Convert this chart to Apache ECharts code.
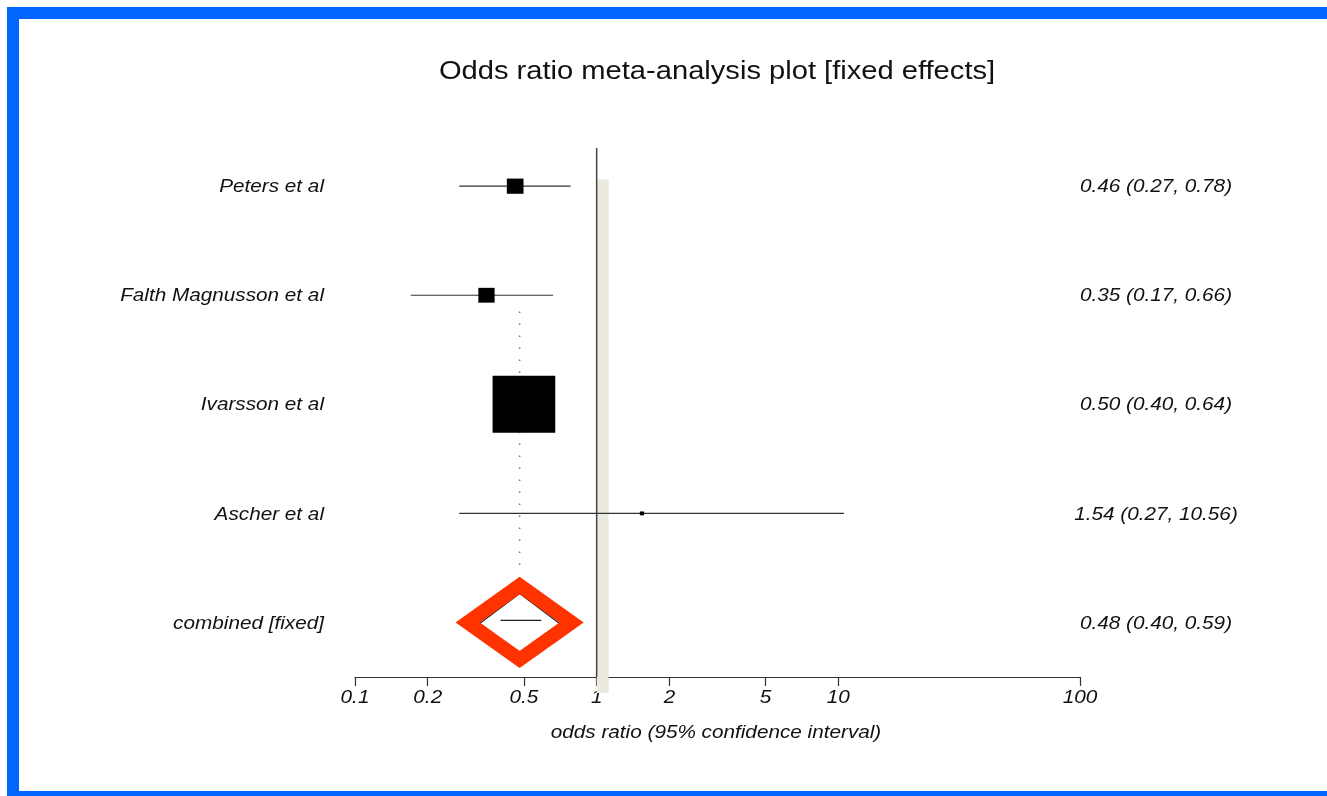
<!DOCTYPE html>
<html>
<head>
<meta charset="utf-8">
<script src="https://cdn.jsdelivr.net/npm/echarts@6/dist/echarts.min.js"></script>
<style>
  html, body { margin: 0; padding: 0; background: #fff; }
  #chart { width: 1327px; height: 796px; }
</style>
</head>
<body>
<div id="chart"></div>
<script>
// Forest plot: odds ratios with 95% confidence intervals, fixed-effects pooling
const studies = ['Peters et al', 'Falth Magnusson et al', 'Ivarsson et al', 'Ascher et al'];
const oddsRatio = [0.46, 0.35, 0.50, 1.54];
const ciLower = [0.27, 0.17, 0.40, 0.27];
const ciUpper = [0.78, 0.66, 0.64, 10.56];
const weightPct = [6.2, 5.9, 87.5, 0.4];

const pooledLabel = 'combined [fixed]';
const pooledOR = 0.48;
const pooledLower = 0.40;
const pooledUpper = 0.59;

const tickValues = [0.1, 0.2, 0.5, 1, 2, 5, 10, 100];
const tickLabels = ['0.1', '0.2', '0.5', '1', '2', '5', '10', '100'];

const FONT = '"Liberation Sans", Arial, Helvetica, sans-serif';
const WIDE = 1.12;   // horizontal stretch applied to all text
const lg = Math.log10;
const fmt = v => v.toFixed(2);

const studyData = studies.map((s, i) => [lg(oddsRatio[i]), i, lg(ciLower[i]), lg(ciUpper[i]), weightPct[i]]);
const pooledRow = studies.length;

const labelRows = studies.map((s, i) => ({
  name: s, row: i,
  text: `${fmt(oddsRatio[i])} (${fmt(ciLower[i])}, ${fmt(ciUpper[i])})`
}));
labelRows.push({ name: pooledLabel, row: pooledRow, text: `${fmt(pooledOR)} (${fmt(pooledLower)}, ${fmt(pooledUpper)})` });

const chart = echarts.init(document.getElementById('chart'), null, { renderer: 'canvas' });

const italic = size => ({ fontFamily: FONT, fontSize: size, fontStyle: 'italic', fill: '#111' });

const option = {
  backgroundColor: '#ffffff',
  animation: false,
  graphic: [
    {
      type: 'text', x: 717, y: 72, scaleX: WIDE, z: 50,
      style: { text: 'Odds ratio meta-analysis plot [fixed effects]', fontFamily: FONT, fontSize: 26, fill: '#111', align: 'center', verticalAlign: 'middle' }
    },
    {
      type: 'text', x: 716, y: 733, scaleX: WIDE, z: 50,
      style: Object.assign({ text: 'odds ratio (95% confidence interval)', align: 'center', verticalAlign: 'middle' }, italic(18.5))
    },
    {
      type: 'rect', z: 100,
      shape: { x: 13, y: 13, width: 1400, height: 784 },
      style: { fill: 'none', stroke: '#0066ff', lineWidth: 12 }
    }
  ],
  grid: { left: 355, right: 247, top: 148, bottom: 119 },
  xAxis: {
    type: 'value', min: lg(0.1), max: lg(100),
    splitLine: { show: false },
    axisLine: { show: true, onZero: false, lineStyle: { color: '#333', width: 1.2 } },
    axisTick: { show: true, length: 9, customValues: tickValues.map(lg), lineStyle: { color: '#333', width: 1.2 } },
    axisLabel: { show: false }
  },
  yAxis: { type: 'value', min: -0.35, max: 4.5, inverse: true, show: false },
  series: [
    {
      // tick labels of the log odds-ratio scale
      type: 'custom', z: 4,
      data: tickValues.map(v => [lg(v), 4.5]),
      renderItem: (params, api) => {
        const p = api.coord([api.value(0), api.value(1)]);
        return {
          type: 'text', x: p[0], y: p[1] + 21, scaleX: WIDE,
          style: Object.assign({ text: tickLabels[params.dataIndex], align: 'center', verticalAlign: 'middle' }, italic(18.5))
        };
      }
    },
    {
      // no-effect reference line at OR = 1 with shaded strip
      type: 'custom', z: 5,
      data: [[0, 0]],
      renderItem: (params, api) => {
        const top = api.coord([0, -0.35]);
        const bot = api.coord([0, 4.5]);
        const r0 = api.coord([0, 0]);
        return {
          type: 'group', children: [
            { type: 'rect', shape: { x: top[0], y: r0[1] - 7, width: 12, height: bot[1] + 16 - (r0[1] - 7) }, style: { fill: '#ebe9e0' } },
            { type: 'line', shape: { x1: top[0], y1: top[1], x2: top[0], y2: bot[1] }, style: { stroke: '#444', lineWidth: 1.5 } }
          ]
        };
      }
    },
    {
      // pooled estimate: dotted line, diamond and highlight
      type: 'custom', z: 6,
      data: [[lg(pooledOR), pooledRow, lg(pooledLower), lg(pooledUpper)]],
      renderItem: (params, api) => {
        const row = api.value(1);
        const c = api.coord([api.value(0), row]);
        const lo = api.coord([api.value(2), row]);
        const hi = api.coord([api.value(3), row]);
        const dTop = api.coord([api.value(0), 1.15]);
        const dBot = api.coord([api.value(0), 3.56]);
        const diamond = (hw, hh, dy) => [[c[0] - hw, c[1] + dy], [c[0], c[1] - hh + dy], [c[0] + hw, c[1] + dy], [c[0], c[1] + hh + dy]];
        return {
          type: 'group', children: [
            { type: 'line', shape: { x1: dTop[0], y1: dTop[1], x2: dBot[0], y2: dBot[1] }, style: { stroke: '#777', lineWidth: 1.5, lineDash: [1.5, 10.5] } },
            { type: 'polygon', shape: { points: diamond(40, 30, 1) }, style: { fill: '#fff', stroke: '#222', lineWidth: 1.2 } },
            { type: 'line', shape: { x1: lo[0], y1: c[1] - 2, x2: hi[0], y2: c[1] - 2 }, style: { stroke: '#222', lineWidth: 1.2 } },
            { type: 'polygon', shape: { points: diamond(52, 37, 0) }, style: { fill: 'none', stroke: '#ff3300', lineWidth: 14, lineJoin: 'miter' } }
          ]
        };
      }
    },
    {
      // individual studies: CI line and weight-scaled square
      type: 'custom', z: 7,
      data: studyData,
      renderItem: (params, api) => {
        const row = api.value(1);
        const p = api.coord([api.value(0), row]);
        const l = api.coord([api.value(2), row]);
        const h = api.coord([api.value(3), row]);
        const s = Math.sqrt(api.value(4));
        return {
          type: 'group', children: [
            { type: 'line', shape: { x1: l[0], y1: p[1], x2: h[0], y2: p[1] }, style: { stroke: '#333', lineWidth: 1.2 } },
            { type: 'rect', shape: { x: p[0] - s * 3.35, y: p[1] - s * 3.05, width: s * 6.7, height: s * 6.1 }, style: { fill: '#000' } }
          ]
        };
      }
    },
    {
      // study names on the left, estimates on the right
      type: 'custom', z: 8,
      data: labelRows.map(r => [lg(0.1), r.row]),
      renderItem: (params, api) => {
        const r = labelRows[params.dataIndex];
        const left = api.coord([lg(0.1), r.row]);
        const right = api.coord([lg(100), r.row]);
        const st = Object.assign({ verticalAlign: 'middle' }, italic(18.5));
        return {
          type: 'group', children: [
            { type: 'text', x: left[0] - 31, y: left[1] + 1, scaleX: WIDE, style: Object.assign({ text: r.name, align: 'right' }, st) },
            { type: 'text', x: right[0] + 76, y: right[1] + 1, scaleX: WIDE, style: Object.assign({ text: r.text, align: 'center' }, st) }
          ]
        };
      }
    }
  ]
};

chart.setOption(option);
</script>
</body>
</html>
